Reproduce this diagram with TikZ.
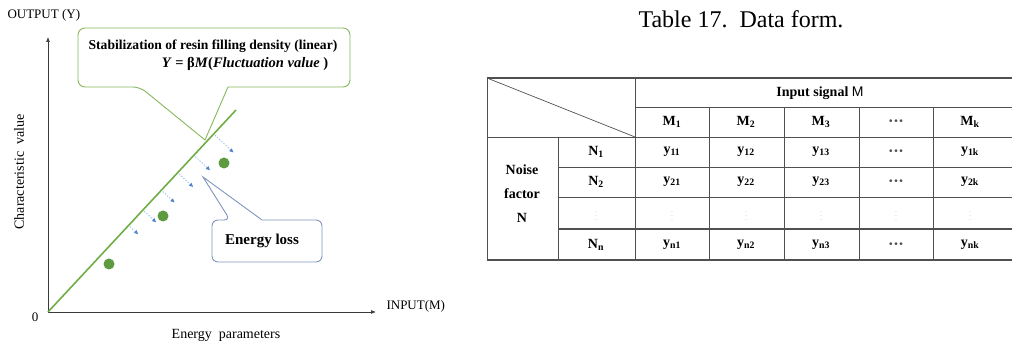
\documentclass[tikz,border=0pt]{standalone}
\usepackage{fontspec}
\setmainfont{Liberation Serif}
\newfontfamily\labelsans{Liberation Sans}
\usetikzlibrary{arrows.meta, calc}
\definecolor{inkaxis}{HTML}{3A3A3A}
\definecolor{inkgreen}{HTML}{70AD47}
\definecolor{inkdot}{HTML}{5E9A3F}
\definecolor{inkcallout}{HTML}{86B85C}
\definecolor{inkloss}{HTML}{8195BE}
\definecolor{inkdash}{HTML}{9CC0EA}
\definecolor{inkhead}{HTML}{4F83CC}
\definecolor{inkrule}{HTML}{505050}
\definecolor{inkfaint}{HTML}{C4C4C4}
\newcommand{\tabcell}[4]{%
  \node[font=\fontsize{14}{16}\selectfont\bfseries] (#1) at (#2,#3) {#4};}
\newcommand{\tabdots}[3]{%
  \node[text=inkrule, font=\labelsans\fontsize{10}{11}\selectfont] (#1) at (#2,#3) {•\,•\,•};}

\begin{document}
\begin{tikzpicture}[x=1pt, y=-1pt, font=\fontsize{13}{15}\selectfont,
    lossarrow/.style={inkdash, line width=0.9pt, dash pattern=on 1.3pt off 1.6pt,
      shorten <=2pt, -{Triangle[length=4pt, width=3.6pt, color=inkhead]}},
    rule/.style={inkrule, line width=0.7pt},
    boldrule/.style={inkrule, line width=1.5pt}]
  \useasboundingbox (0,0) rectangle (1027,344);

  % axes
  \coordinate (o) at (48,312);
  \coordinate (ytop) at (48,37);
  \coordinate (xend) at (376,312);
  \draw[inkaxis, line width=0.7pt, -{Latex[length=5pt, width=4pt]}] (o) -- (ytop);
  \draw[inkaxis, line width=0.7pt, -{Latex[length=5pt, width=4pt]}] (o) -- (xend);
  \node[anchor=west] (outlbl) at (4,15) {OUTPUT (Y)};
  \node[anchor=west] (inlbl) at (383,306) {INPUT(M)};
  \node (zero) at (35,317) {0};
  \node[font=\fontsize{14}{16}\selectfont] (xlbl) at (226,335) {Energy\ \ parameters};
  \node[rotate=90, font=\fontsize{14}{16}\selectfont] (ylbl) at (19,172) {Characteristic\ \ value};

  % callout: stabilization
  \coordinate (stabtip) at (205,140);
  \draw[inkcallout, line width=0.9pt, fill=white] (140,87) -- (stabtip) -- (228,87)
    [rounded corners=7pt] -- (350,87) -- (350,28) -- (78,28) -- (78,87) -- cycle;
  \node[font=\fontsize{13.6}{15}\selectfont\bfseries] (stabtitle) at (213,46)
    {Stabilization of resin filling density (linear)};
  \node[font=\fontsize{14.5}{16}\selectfont\bfseries] (stabeq) at (245,64)
    {\textit{Y} = β\textit{M}(\textit{Fluctuation value} )};

  % fitted line and losses
  \coordinate (lend) at (236,110);
  \draw[inkgreen, line width=1.6pt] (o) -- (lend);
  \foreach \t/\d in {0.881/27, 0.776/22, 0.69/21, 0.603/18, 0.505/18, 0.429/13}
    \draw[lossarrow] ($(o)!\t!(lend)$) -- ($(o)!\t!(lend)!\d pt!-90:(lend)$);
  \foreach \p [count=\i] in {(109,264), (163,216), (224,163)}
    \node[circle, fill=inkdot, minimum size=11pt, inner sep=0pt] (dot\i) at \p {};

  % callout: energy loss
  \coordinate (losstip) at (203,177);
  \draw[inkloss, line width=0.9pt, fill=white] (230,220) -- (losstip) -- (262,220)
    [rounded corners=6pt] -- (322,220) -- (322,262) -- (212,262) -- (212,220) -- cycle;
  \node[font=\fontsize{15}{17}\selectfont\bfseries] (losstext) at (262,241) {Energy loss};

  % table
  \node[font=\fontsize{24}{26}\selectfont] (tabtitle) at (741,19) {Table 17.\ \ Data form.};
  \draw[boldrule] (487,78) -- (1012,78);
  \draw[boldrule] (487,260) -- (1012,260);
  \draw[boldrule] (558,229) -- (1012,229);
  \draw[rule] (487,78) -- (487,260);
  \draw[rule] (487,78) -- (635,137);
  \draw[rule] (635,78) -- (635,260);
  \draw[rule] (635,107) -- (1012,107);
  \draw[rule] (487,137) -- (1012,137);
  \draw[rule] (558,137) -- (558,260);
  \foreach \ry in {167, 197}
    \draw[rule] (558,\ry) -- (1012,\ry);
  \foreach \cx in {709, 784, 859, 933}
    \draw[rule] (\cx,107) -- (\cx,260);

  \tabcell{insig}{820}{93}{Input signal {\labelsans\mdseries M}}
  \tabcell{m1}{672}{122}{M\textsubscript{1}}
  \tabcell{m2}{746}{122}{M\textsubscript{2}}
  \tabcell{m3}{821}{122}{M\textsubscript{3}}
  \tabdots{mdots}{896}{122}
  \tabcell{mk}{970}{122}{M\textsubscript{k}}
  \foreach \r/\ry in {1/152, 2/182, n/245} {
    \tabcell{n\r}{596}{\ry}{N\textsubscript{\r}}
    \tabcell{y\r1}{672}{\ry}{y\textsubscript{\r1}}
    \tabcell{y\r2}{746}{\ry}{y\textsubscript{\r2}}
    \tabcell{y\r3}{821}{\ry}{y\textsubscript{\r3}}
    \tabdots{ydots\r}{896}{\ry}
    \tabcell{y\r k}{970}{\ry}{y\textsubscript{\r k}}
  }
  \foreach \cx [count=\i] in {596, 672, 746, 821, 896, 970}
    \node[text=inkfaint, inner sep=0pt, font=\fontsize{8}{9}\selectfont] (vdots\i)
      at (\cx,213) {$\vdots$};
  \node[align=center, font=\fontsize{14}{24}\selectfont\bfseries] (noise) at (522,194)
    {Noise\\factor\\N};
\end{tikzpicture}
\end{document}
